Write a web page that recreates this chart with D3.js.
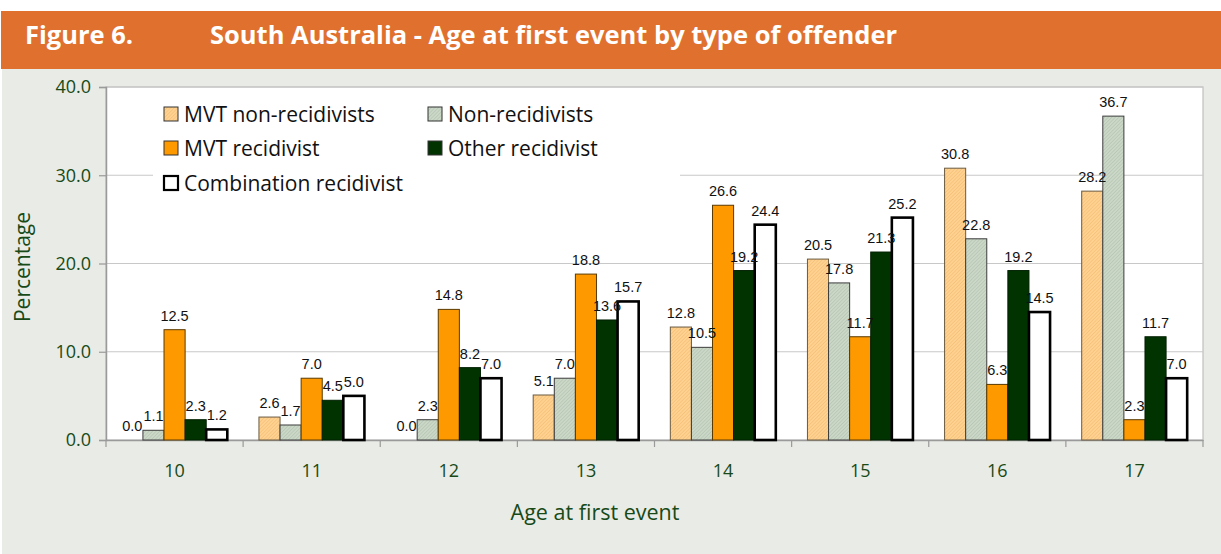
<!DOCTYPE html>
<html>
<head>
<meta charset="utf-8">
<script src="https://cdn.jsdelivr.net/npm/d3@7"></script>
<style>
  html, body { margin: 0; padding: 0; background: #fff; }
  svg { display: block; }
</style>
</head>
<body>
<div id="chart"></div>
<script>
var W = 1221, H = 554;

// data
var ages = ["10", "11", "12", "13", "14", "15", "16", "17"];
var seriesNames = ["MVT non-recidivists", "Non-recidivists", "MVT recidivist", "Other recidivist", "Combination recidivist"];
var mvtNonRecidivists = [0.0, 2.6, 0.0, 5.1, 12.8, 20.5, 30.8, 28.2];
var nonRecidivists = [1.1, 1.7, 2.3, 7.0, 10.5, 17.8, 22.8, 36.7];
var mvtRecidivist = [12.5, 7.0, 14.8, 18.8, 26.6, 11.7, 6.3, 2.3];
var otherRecidivist = [2.3, 4.5, 8.2, 13.6, 19.2, 21.3, 19.2, 11.7];
var combinationRecidivist = [1.2, 5.0, 7.0, 15.7, 24.4, 25.2, 14.5, 7.0];
var yTicks = [0, 10, 20, 30, 40];

var seriesValues = [mvtNonRecidivists, nonRecidivists, mvtRecidivist, otherRecidivist, combinationRecidivist];

var green = "#174a17";
var font = "'Open Sans', sans-serif";
var plot = {left: 106, right: 1203, top: 87, bottom: 440};

var svg = d3.select("#chart").append("svg")
	.attr("width", W)
	.attr("height", H);

var defs = svg.append("defs");

function hatch(id, base, line) {
	var p = defs.append("pattern")
		.attr("id", id)
		.attr("patternUnits", "userSpaceOnUse")
		.attr("width", 2.5)
		.attr("height", 2.5)
		.attr("patternTransform", "rotate(45)");
	p.append("rect").attr("width", 2.5).attr("height", 2.5).attr("fill", base);
	p.append("line").attr("x1", 0).attr("y1", 0).attr("x2", 0).attr("y2", 2.5)
		.attr("stroke", line).attr("stroke-width", 0.9);
}
hatch("hatchOrange", "#ffd291", "#f0b466");
hatch("hatchGrey", "#cbd8c8", "#a9b9a6");

var styles = [
	{fill: "url(#hatchOrange)", stroke: "#6b5a40", sw: 1},
	{fill: "url(#hatchGrey)", stroke: "#3c3c3c", sw: 1},
	{fill: "#ff9900", stroke: "#5a3a00", sw: 1},
	{fill: "#003300", stroke: "#002000", sw: 1},
	{fill: "#ffffff", stroke: "#000000", sw: 2.6}
];

// background + header
svg.append("rect").attr("x", 2).attr("y", 69).attr("width", W - 2).attr("height", H - 69).attr("fill", "#e9ebe6");
svg.append("rect").attr("x", 1).attr("y", 11).attr("width", W - 1).attr("height", 58).attr("fill", "#e0702e");
svg.append("text").attr("x", 25).attr("y", 44)
	.attr("font-family", font).attr("font-weight", "bold")
	.attr("font-size", 25.5).attr("fill", "#fff")
	.text("Figure 6.");
svg.append("text").attr("x", 210).attr("y", 44)
	.attr("font-family", font).attr("font-weight", "bold")
	.attr("font-size", 25.5).attr("fill", "#fff")
	.text("South Australia - Age at first event by type of offender");

// plot area
svg.append("rect")
	.attr("x", plot.left).attr("y", plot.top)
	.attr("width", plot.right - plot.left).attr("height", plot.bottom - plot.top)
	.attr("fill", "#fff").attr("stroke", "#c0c0c0").attr("stroke-width", 1.2);

var x = d3.scaleBand().domain(ages).range([plot.left, plot.right]).padding(0);
var xs = d3.scaleBand().domain(d3.range(seriesNames.length)).range([0, x.bandwidth()])
	.paddingInner(0).paddingOuter(0.75);
var y = d3.scaleLinear().domain([0, 40]).range([plot.bottom, plot.top]);

// gridlines
svg.append("g").selectAll("line")
	.data(yTicks.filter(function(d) { return d > 0; }))
	.enter().append("line")
	.attr("x1", plot.left).attr("x2", plot.right)
	.attr("y1", function(d) { return y(d); }).attr("y2", function(d) { return y(d); })
	.attr("stroke", "#c8c8c8").attr("stroke-width", 1.2);

// legend box (covers gridlines)
svg.append("rect").attr("x", 153).attr("y", 95).attr("width", 527).attr("height", 105).attr("fill", "#fff");

// y axis
var yAxis = svg.append("g")
	.attr("transform", "translate(" + plot.left + ",0)")
	.call(d3.axisLeft(y).tickValues(yTicks).tickFormat(d3.format(".1f")).tickSize(7).tickPadding(8));
yAxis.select(".domain").attr("stroke", "#9a9a9a").attr("stroke-width", 1.5);
yAxis.selectAll(".tick line").attr("stroke", "#9a9a9a").attr("stroke-width", 1.2);
yAxis.selectAll("text").attr("fill", green).attr("font-size", 18)
	.attr("font-family", font);

// x axis
var xAxis = svg.append("g")
	.attr("transform", "translate(0," + plot.bottom + ")")
	.call(d3.axisBottom(x).tickSize(0).tickPadding(24));
xAxis.select(".domain").attr("stroke", "#9a9a9a").attr("stroke-width", 1.5);
xAxis.selectAll("text").attr("fill", green).attr("font-size", 18)
	.attr("font-family", font);
svg.append("g").selectAll("line")
	.data(d3.range(ages.length + 1))
	.enter().append("line")
	.attr("x1", function(i) { return plot.left + i * x.step(); })
	.attr("x2", function(i) { return plot.left + i * x.step(); })
	.attr("y1", plot.bottom).attr("y2", plot.bottom + 7)
	.attr("stroke", "#9a9a9a").attr("stroke-width", 1.2);

// axis titles
svg.append("text")
	.attr("transform", "translate(30,267) rotate(-90)")
	.attr("text-anchor", "middle")
	.attr("font-family", font).attr("font-size", 21).attr("fill", green)
	.text("Percentage");
svg.append("text")
	.attr("x", 595).attr("y", 520)
	.attr("text-anchor", "middle")
	.attr("font-family", font).attr("font-size", 21.5).attr("fill", green)
	.text("Age at first event");

// bars
var groups = svg.append("g").selectAll("g")
	.data(ages)
	.enter().append("g")
	.attr("transform", function(d) { return "translate(" + x(d) + ",0)"; });

groups.selectAll("rect")
	.data(function(d, i) { return seriesValues.map(function(vals, s) { return {s: s, v: vals[i]}; }); })
	.enter().append("rect")
	.filter(function(d) { return d.v > 0; })
	.attr("x", function(d) { return xs(d.s); })
	.attr("width", xs.bandwidth())
	.attr("y", function(d) { return y(d.v); })
	.attr("height", function(d) { return y(0) - y(d.v); })
	.attr("fill", function(d) { return styles[d.s].fill; })
	.attr("stroke", function(d) { return styles[d.s].stroke; })
	.attr("stroke-width", function(d) { return styles[d.s].sw; });

groups.selectAll("text")
	.data(function(d, i) { return seriesValues.map(function(vals, s) { return {s: s, v: vals[i]}; }); })
	.enter().append("text")
	.attr("x", function(d) { return xs(d.s) + xs.bandwidth() / 2; })
	.attr("y", function(d) { return y(d.v) - 9; })
	.attr("text-anchor", "middle")
	.attr("font-family", "'Liberation Sans', Arial, sans-serif")
	.attr("font-size", 14.5).attr("fill", "#111")
	.text(function(d) { return d3.format(".1f")(d.v); });

// legend
var legendPos = [
	{x: 164, y: 114}, {x: 428, y: 114},
	{x: 164, y: 148}, {x: 428, y: 148},
	{x: 164, y: 183}
];
var legend = svg.append("g").selectAll("g")
	.data(seriesNames)
	.enter().append("g")
	.attr("transform", function(d, i) { return "translate(" + legendPos[i].x + "," + legendPos[i].y + ")"; });
legend.append("rect")
	.attr("x", 0).attr("y", -7).attr("width", 14).attr("height", 14)
	.attr("fill", function(d, i) { return styles[i].fill; })
	.attr("stroke", function(d, i) { return i == 4 ? "#000" : "#333"; })
	.attr("stroke-width", function(d, i) { return i == 4 ? 2.2 : 1; });
legend.append("text")
	.attr("x", 20).attr("y", 7.5)
	.attr("font-family", font).attr("font-size", 21).attr("fill", "#111")
	.text(function(d) { return d; });
</script>
</body>
</html>
